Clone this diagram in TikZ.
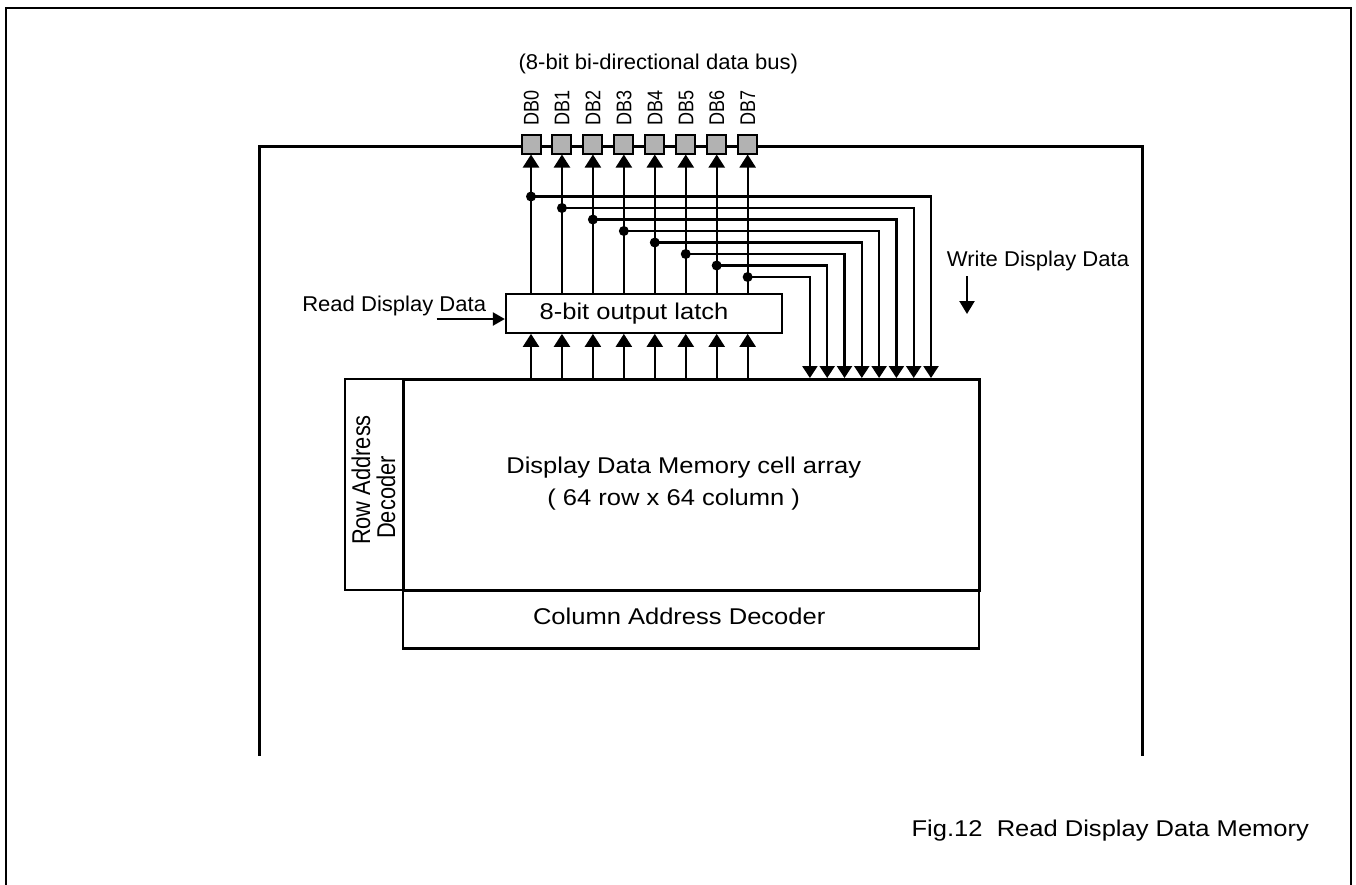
\documentclass[tikz,border=0pt]{standalone}
\usepackage{fontspec}
\setmainfont{Liberation Sans}
\newfontfamily\hf[FakeStretch=1.12]{Liberation Sans}
\newfontfamily\sfam[FakeStretch=1.03]{Liberation Sans}
\newfontfamily\vf[FakeStretch=0.85]{Liberation Sans}
\usetikzlibrary{arrows.meta}
\definecolor{sqgray}{RGB}{178,178,178}
\begin{document}
\begin{tikzpicture}[x=1pt,y=-1pt,
  wire/.style={line width=2.3pt},
  upa/.style={wire,-{Triangle[width=16pt,length=13pt]}},
  dna/.style={wire,-{Triangle[width=15pt,length=12pt]}},
  box/.style={draw,line width=2.3pt,inner sep=0pt},
  sq/.style={draw,line width=2pt,fill=sqgray,minimum size=19pt,inner sep=0pt},
  big/.style={font=\hf\fontsize{22.8}{26}\selectfont,inner sep=0pt,anchor=base},
  small/.style={font=\sfam\fontsize{21.4}{25}\selectfont,inner sep=0pt,anchor=base},
  vt/.style={font=\vf\fontsize{25.7}{30}\selectfont,inner sep=0pt,anchor=base,rotate=90},
  dbl/.style={font=\vf\fontsize{21.2}{25}\selectfont,inner sep=0pt,anchor=base,rotate=90},
  frameline/.style={line width=2.6pt},
  chipline/.style={line width=3pt}]
\useasboundingbox (0,0) rectangle (1356,884);
% outer frame (open at bottom)
\draw[frameline] (6,890) -- (6,8) -- (1351,8) -- (1351,890);
% chip outline with bus line
\draw[chipline] (259,755.5) -- (259,146) -- (1142,146) -- (1142,755.5);
% blocks
\node[box,line width=3pt,minimum width=576pt,minimum height=211pt] (mem) at (691,484.5) {};
\node[box,minimum width=58pt,minimum height=211pt] (rowdec) at (374,484.5) {};
\node[box,line width=2.8pt,minimum width=576pt,minimum height=58.5pt] (coldec) at (691,619.25) {};
\node[box,minimum width=276pt,minimum height=38.7pt] (latch) at (644,313.35) {};
% texts
\node[small] (bus) at (658.3,69.3) {(8-bit bi-directional data bus)};
\node[big] (latcht) at (634,319.3) {8-bit output latch};
\node[small] (rdd) at (394.2,311.7) {Read Display Data};
\node[small] (wdd) at (1038,266) {Write Display Data};
\node[big] (memt1) at (683.7,473) {Display Data Memory cell array};
\node[big] (memt2) at (673.7,505) {( 64 row x 64 column )};
\node[big] (colt) at (679.2,624.3) {Column Address Decoder};
\node[vt] (rowt1) at (370,480) {Row Address};
\node[vt] (rowt2) at (395,497.5) {Decoder};
\node[big] (cap) at (1110.3,836) {Fig.12\ \ Read Display Data Memory};
% pads
\foreach \i in {0,...,7}{
  \pgfmathsetmacro\xx{531+30.95*\i}
  \node[sq] (db\i) at (\xx,144) {};
  \node[dbl] (lab\i) at (\xx+7.5,107.5) {DB\i};
}
% data lines
\foreach \i in {0,...,7}{
  \pgfmathsetmacro\xx{531+30.95*\i}
  \pgfmathsetmacro\yy{196.5+11.5*\i}
  \pgfmathsetmacro\xr{931-17.3*\i}
  \coordinate (tap\i) at (\xx,\yy);
  \coordinate (win\i) at (\xr,378);
  \draw[upa] (latch.north -| db\i.south) -- (db\i.south);
  \fill (tap\i) circle (5);
  \draw[dna] (tap\i) -| (win\i);
  \draw[upa] (mem.north -| db\i.south) -- (latch.south -| db\i.south);
}
% read / write arrows
\coordinate (rddst) at (436.7,319);
\draw[wire,-{Triangle[width=13pt,length=12pt]}] (rddst) -- (rddst -| latch.west);
\coordinate (wst) at (967,276);
\coordinate (wen) at (967,314);
\draw[wire,-{Triangle[width=15pt,length=13pt]}] (wst) -- (wen);
\end{tikzpicture}
\end{document}
